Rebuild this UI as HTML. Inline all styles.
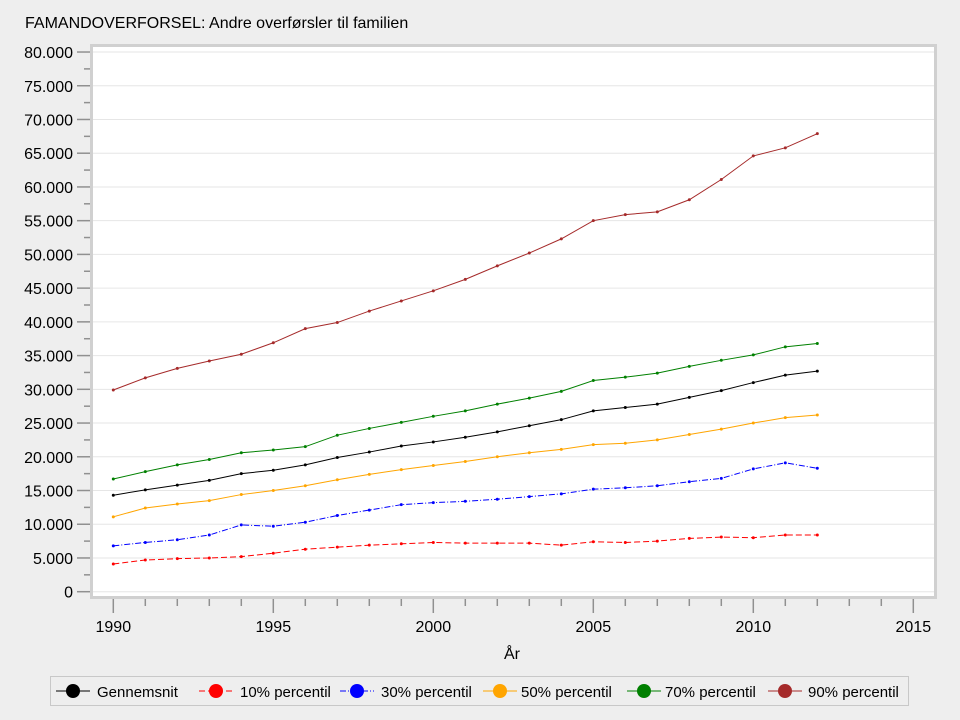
<!DOCTYPE html>
<html><head><meta charset="utf-8"><style>
body{margin:0;background:#eeeeee;}
svg{display:block;font-family:"Liberation Sans",sans-serif;}
</style></head><body>
<svg id="s" width="960" height="720" xmlns="http://www.w3.org/2000/svg">
<rect width="960" height="720" fill="#eeeeee"/>
<text x="25" y="28" font-size="16" fill="#000">FAMANDOVERFORSEL: Andre overførsler til familien</text>
<rect x="91.5" y="45.5" width="844" height="552" fill="#fff" stroke="#d0d0d0" stroke-width="3"/>
<g id="g"></g>
<rect x="50.5" y="676.5" width="858" height="29" fill="none" stroke="#c8c8c8"/>
</svg>
<script>
const g=document.getElementById('g');let h='';
const Y=v=>591.7-v*0.006746, X=y=>113.3+(y-1990)*32;
for(let v=0;v<=80000;v+=2500){const y=Y(v);const maj=v%5000==0;
 if(maj){h+=`<line x1="93" x2="934" y1="${y}" y2="${y}" stroke="#e6e6e6"/>`;
 h+=`<text x="73" y="${y+6}" font-size="16" text-anchor="end">${v==0?'0':(v/1000)+'.000'}</text>`;}
 h+=`<line x1="${maj?77:84}" x2="90" y1="${y}" y2="${y}" stroke="#909090" stroke-width="1.5"/>`;}
for(let yr=1990;yr<=2015;yr++){const x=X(yr);const maj=yr%5==0;
 h+=`<line x1="${x}" x2="${x}" y1="599" y2="${maj?613:606}" stroke="#909090" stroke-width="1.5"/>`;
 if(maj)h+=`<text x="${x}" y="632" font-size="16" text-anchor="middle">${yr}</text>`;}
h+=`<text x="512" y="659" font-size="16" text-anchor="middle">År</text>`;
const S=[
['#000','',[14300,15100,15800,16500,17500,18000,18800,19900,20700,21600,22200,22900,23700,24600,25500,26800,27300,27800,28800,29800,31000,32100,32700]],
['#ff0000','6,3',[4100,4700,4900,5000,5200,5700,6300,6600,6900,7100,7300,7200,7200,7200,6900,7400,7300,7500,7900,8100,8000,8400,8400]],
['#0000ff','6,2,1,2',[6800,7300,7700,8400,9900,9700,10300,11300,12100,12900,13200,13400,13700,14100,14500,15200,15400,15700,16300,16800,18200,19100,18300]],
['#ffa500','',[11100,12400,13000,13500,14400,15000,15700,16600,17400,18100,18700,19300,20000,20600,21100,21800,22000,22500,23300,24100,25000,25800,26200]],
['#008000','',[16700,17800,18800,19600,20600,21000,21500,23200,24200,25100,26000,26800,27800,28700,29700,31300,31800,32400,33400,34300,35100,36300,36800]],
['#a52a2a','',[29900,31700,33100,34200,35200,36900,39000,39900,41600,43100,44600,46300,48300,50200,52300,55000,55900,56300,58100,61100,64600,65800,67900]]];
for(const [c,d,v] of S){h+=`<polyline fill="none" stroke="${c}" stroke-width="1" ${d?`stroke-dasharray="${d}"`:''} points="${v.map((a,i)=>X(1990+i)+','+Y(a)).join(' ')}"/>`;
 v.forEach((a,i)=>h+=`<circle cx="${X(1990+i)}" cy="${Y(a)}" r="1.5" fill="${c}"/>`);}
const L=[[73,97,'Gennemsnit'],[216,240,'10% percentil'],[357,381,'30% percentil'],[500,521,'50% percentil'],[644,665,'70% percentil'],[785,808,'90% percentil']];
L.forEach(([cx,tx,t],i)=>{const c=S[i][0],d=S[i][1];
 h+=`<line x1="${cx-17}" x2="${cx+17}" y1="691" y2="691" stroke="${c}" ${d?`stroke-dasharray="${d}"`:''}/><circle cx="${cx}" cy="691" r="7" fill="${c}"/><text x="${tx}" y="697" font-size="15">${t}</text>`;});
g.innerHTML=h;
</script>
</body></html>
